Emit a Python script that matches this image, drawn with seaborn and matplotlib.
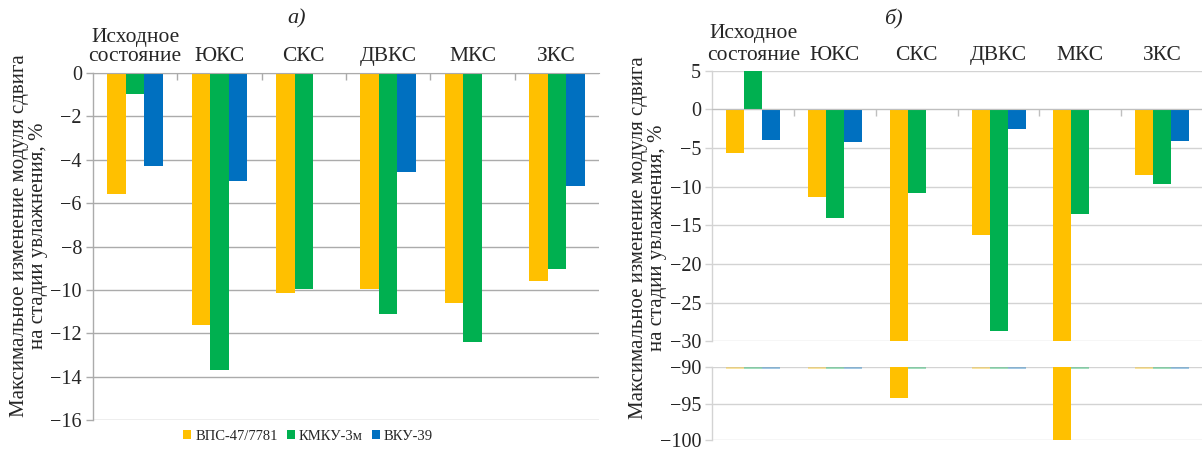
import numpy as np
import pandas as pd
import matplotlib
matplotlib.use("Agg")
import matplotlib.pyplot as plt
from matplotlib.patches import Patch
from matplotlib.ticker import FixedLocator
import seaborn as sns

# ---- data -------------------------------------------------------------
categories = ["Исходное\nсостояние", "ЮКС", "СКС", "ДВКС", "МКС", "ЗКС"]
series = ["ВПС-47/7781", "КМКУ-3м", "ВКУ-39"]
colors = ["#FFC000", "#00B050", "#0070C0"]

# panel а)
a_vps = [-5.6, -11.6, -10.15, -9.95, -10.6, -9.6]
a_kmku = [-0.95, -13.7, -9.95, -11.1, -12.4, -9.05]
a_vku = [-4.3, -5.0, np.nan, -4.55, np.nan, -5.2]
a_ticks = [0, -2, -4, -6, -8, -10, -12, -14, -16]

# panel б)
b_vps = [-5.6, -11.4, -94.3, -16.3, -100.0, -8.5]
b_kmku = [5.0, -14.1, -10.8, -28.7, -13.5, -9.7]
b_vku = [-4.0, -4.2, np.nan, -2.55, np.nan, -4.15]
b_ticks_upper = [5, 0, -5, -10, -15, -20, -25, -30]
b_ticks_lower = [-90, -95, -100]

ylabel = "Максимальное изменение модуля сдвига\nна стадии увлажнения, %"


def long_frame(*cols):
    rows = []
    for name, vals in zip(series, cols):
        for cat, v in zip(categories, vals):
            if not np.isnan(v):
                rows.append({"cat": cat, "series": name, "val": v})
    return pd.DataFrame(rows)


df_a = long_frame(a_vps, a_kmku, a_vku)
df_b = long_frame(b_vps, b_kmku, b_vku)

# ---- style ------------------------------------------------------------
sns.set_style("white")
SERIF = ["Liberation Serif", "DejaVu Serif"]
plt.rcParams["font.family"] = SERIF

W, H = 1202, 451
fig = plt.figure(figsize=(W / 100, H / 100), dpi=100)


def box(x0, y0, x1, y1):
    return [x0 / W, 1 - y1 / H, (x1 - x0) / W, (y1 - y0) / H]


TICK_FS = 14.5
CAT_FS = 15.5


def fmt(v):
    return str(v).replace("-", "\u2212")


def draw_bars(ax, df):
    sns.barplot(data=df, x="cat", y="val", hue="series", order=categories,
                hue_order=series, palette=colors, saturation=1, width=0.66,
                gap=0, errorbar=None, linewidth=0, legend=False, ax=ax)
    ax.set_xlim(-0.5, len(categories) - 0.5)
    ax.set_xlabel("")
    ax.set_ylabel("")


def style_y(ax, ticks, gcolor):
    ax.set_yticks(ticks)
    ax.set_yticklabels([fmt(t) for t in ticks], family=SERIF)
    ax.grid(axis="y", color=gcolor, linewidth=1.0)
    ax.grid(axis="x", visible=False)
    ax.set_axisbelow(True)
    ax.tick_params(axis="y", which="major", left=True, length=5, width=1,
                   color=gcolor, pad=3, labelsize=TICK_FS)
    ax.spines["left"].set_color(gcolor)
    ax.spines["left"].set_linewidth(1.0)
    ax.spines["right"].set_visible(False)


def top_labels(ax, pad):
    ax.set_xticks(range(len(categories)))
    ax.set_xticklabels(categories, family=SERIF)
    ax.tick_params(axis="x", which="major", top=True, bottom=False,
                   labeltop=True, labelbottom=False, length=0, pad=pad,
                   labelsize=CAT_FS)
    for lbl in ax.get_xticklabels():
        lbl.set_linespacing(1.0)
    ax.xaxis.set_minor_locator(FixedLocator(np.arange(0.5, len(categories) - 1, 1)))


# ---- panel а) ---------------------------------------------------------
grid_a = "#ABABAB"
ax_a = fig.add_axes(box(93, 73, 599, 420))
draw_bars(ax_a, df_a)
ax_a.set_ylim(-16, 0)
style_y(ax_a, a_ticks, grid_a)
top_labels(ax_a, 5)
ax_a.tick_params(axis="x", which="minor", top=True, bottom=False,
                 direction="in", length=5, width=1, color=grid_a)
ax_a.spines["bottom"].set_visible(False)
ax_a.spines["top"].set_color(grid_a)

# ---- panel б), upper part --------------------------------------------
grid_b = "#D3D3D3"
ax_b = fig.add_axes(box(712.3, 70.7, 1203, 341.3))
draw_bars(ax_b, df_b)
ax_b.set_ylim(-30, 5)
style_y(ax_b, b_ticks_upper, grid_b)
top_labels(ax_b, 4)
ax_b.spines["top"].set_visible(False)
ax_b.spines["bottom"].set_position(("data", 0))
ax_b.spines["bottom"].set_color("#BFBFBF")
ax_b.tick_params(axis="x", which="minor", top=False, bottom=True,
                 direction="out", length=5, width=1, color="#BFBFBF")

# ---- panel б), lower part --------------------------------------------
ax_c = fig.add_axes(box(712.3, 367, 1203, 440))
draw_bars(ax_c, df_b)
ax_c.set_ylim(-100, -90)
style_y(ax_c, b_ticks_lower, grid_b)
ax_c.set_xticks([])
for s in ("top", "bottom"):
    ax_c.spines[s].set_visible(False)
# bars that stop above the break leave a faint stub on the break line
for p in ax_c.patches:
    if p.get_y() + p.get_height() > -90:
        p.set_y(-90)
        p.set_height(-0.3)
        p.set_alpha(0.35)

# ---- text -------------------------------------------------------------
fig.text(297 / W, 1 - 19 / H, "а)", style="italic", fontsize=16,
         ha="center", va="center")
fig.text(893 / W, 1 - 19 / H, "б)", style="italic", fontsize=16,
         ha="center", va="center")
fig.text(29 / W, 1 - 236 / H, ylabel, rotation=90, ha="center", va="center",
         fontsize=15, linespacing=1.0)
fig.text(648 / W, 1 - 238 / H, ylabel, rotation=90, ha="center", va="center",
         fontsize=15, linespacing=1.0)

handles = [Patch(facecolor=c, edgecolor="none") for c in colors]
fig.legend(handles, series, loc="center", bbox_to_anchor=(308 / W, 1 - 436 / H),
           ncol=3, frameon=False, fontsize=10.5, handlelength=0.55,
           handleheight=0.55, handletextpad=0.3, columnspacing=0.6,
           borderaxespad=0, borderpad=0)

fig.savefig("out.png", dpi=100)
